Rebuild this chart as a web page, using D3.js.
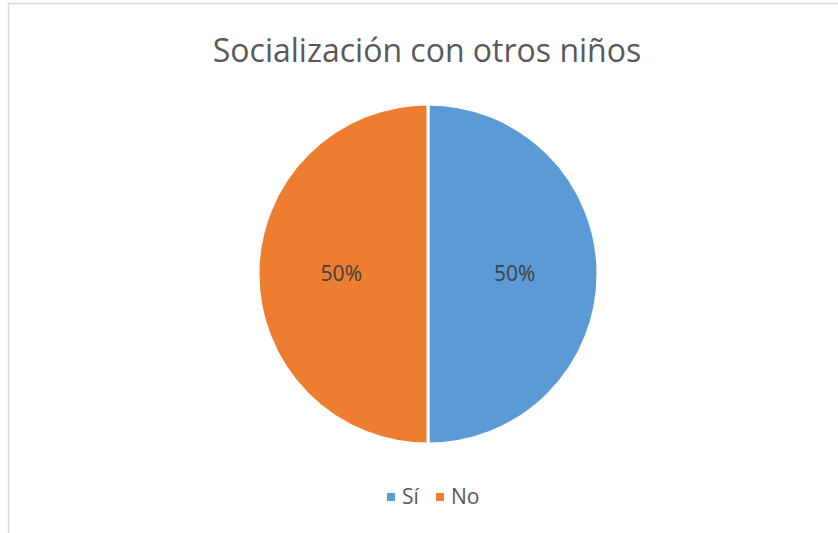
<!DOCTYPE html>
<html>
<head>
<meta charset="utf-8">
<script src="https://cdn.jsdelivr.net/npm/d3@7"></script>
<style>
html,body{margin:0;padding:0;background:#fff;}
svg{display:block;}
</style>
</head>
<body>
<svg id="chart" width="838" height="533"></svg>
<script>
const title = "Socialización con otros niños";
const categories = ["Sí", "No"];
const values = [50, 50];
const colors = ["#5B9BD5", "#ED7D31"];

const svg = d3.select("#chart");
const W = 838, H = 533;
const font = "'Open Sans', 'Noto Sans', sans-serif";

svg.append("rect").attr("x", 8.5).attr("y", 3.5).attr("width", W).attr("height", H)
  .attr("fill", "#fff").attr("stroke", "#d9d9d9").attr("stroke-width", 1.5);

svg.append("text").attr("x", 427).attr("y", 62).attr("text-anchor", "middle")
  .attr("font-family", font).attr("font-size", 32).attr("fill", "#595959").text(title);

const cx = 428, cy = 274, r = 170;
const data = categories.map((c, i) => ({cat: c, value: values[i], color: colors[i]}));
const pie = d3.pie().sort(null).value(d => d.value);
const arc = d3.arc().innerRadius(0).outerRadius(r);
const labelArc = d3.arc().innerRadius(r * 0.51).outerRadius(r * 0.51);
const g = svg.append("g").attr("transform", `translate(${cx},${cy})`);
const arcs = pie(data);
g.selectAll("path").data(arcs).join("path")
  .attr("d", arc).attr("fill", d => d.data.color)
  .attr("stroke", "#fff").attr("stroke-width", 3);
const total = d3.sum(values);
g.selectAll("text").data(arcs).join("text")
  .attr("transform", d => `translate(${labelArc.centroid(d)})`)
  .attr("text-anchor", "middle").attr("dy", "0.35em")
  .attr("font-family", font).attr("font-size", 21).attr("fill", "#404040")
  .text(d => Math.round(d.data.value / total * 100) + "%");

const legend = svg.append("g").attr("font-family", font).attr("font-size", 21).attr("fill", "#595959");
const legX = [387, 436];
data.forEach((d, i) => {
  legend.append("rect").attr("x", legX[i]).attr("y", 493).attr("width", 8).attr("height", 8).attr("fill", d.color);
  legend.append("text").attr("x", legX[i] + 15).attr("y", 504).text(d.cat);
});
</script>
</body>
</html>
